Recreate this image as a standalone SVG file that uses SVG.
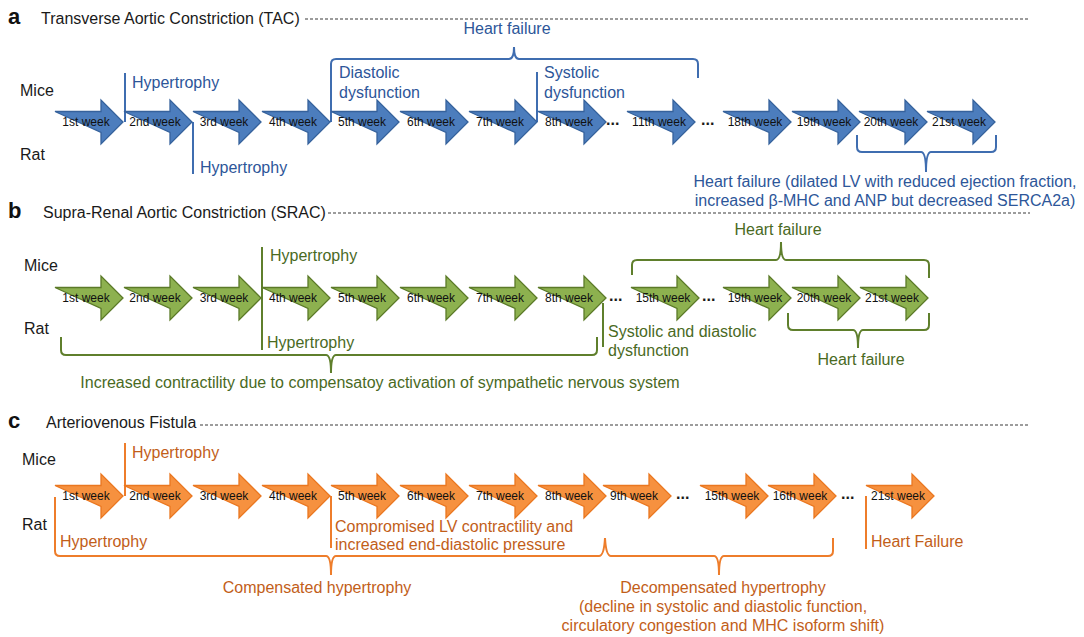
<svg xmlns="http://www.w3.org/2000/svg" xmlns:xlink="http://www.w3.org/1999/xlink" width="1084" height="637" viewBox="0 0 1084 637">
  <style>
    text { font-family: "Liberation Sans", Arial, sans-serif; }
    .letter { font-size: 22px; font-weight: bold; fill: #111; }
    .title { font-size: 16px; fill: #1a1a1a; }
    .sp { font-size: 16px; fill: #1a1a1a; }
    .wk { font-size: 12px; fill: #111; text-anchor: middle; }
    .dots { font-size: 16px; font-weight: bold; fill: #1a1a1a; }
    .dash { stroke: #3a3a3a; stroke-width: 1.2; stroke-dasharray: 3 2; fill: none; }
    .ab { fill: #4c7dbd; stroke: #36629c; stroke-width: 1.3; }
    .ag { fill: #8db14f; stroke: #5b7a28; stroke-width: 1.3; }
    .ao { fill: #f6913f; stroke: #ea7720; stroke-width: 1.3; }
    .tb { font-size: 16px; fill: #2d5699; }
    .tg { font-size: 16px; fill: #4a6a1f; }
    .to { font-size: 16px; fill: #c25e19; }
    .lb { stroke: #3f6db0; stroke-width: 2; fill: none; }
    .lg { stroke: #5f7f2c; stroke-width: 2; fill: none; }
    .lo { stroke: #ee7d2b; stroke-width: 2; fill: none; }
    .mid { text-anchor: middle; }
  </style>
  <defs>
    <!-- block arrow, origin at the left end of the shaft, vertically centred -->
    <path id="arrow" d="M0,-10.5 H46 V-22 L68,0 L46,22 V10.5 Z"/>
  </defs>

  <rect width="1084" height="637" fill="#fff"/>

  <!-- ===== headers ===== -->
  <g id="header-a">
    <text class="letter" x="8" y="24">a</text>
    <text class="title" x="41" y="24">Transverse Aortic Constriction (TAC)</text>
    <line class="dash" x1="305" y1="19" x2="1030" y2="19"/>
  </g>
  <g id="header-b">
    <text class="letter" x="8" y="218">b</text>
    <text class="title" x="43" y="218">Supra-Renal Aortic Constriction (SRAC)</text>
    <line class="dash" x1="328" y1="213" x2="1030" y2="213"/>
  </g>
  <g id="header-c">
    <text class="letter" x="8" y="428">c</text>
    <text class="title" x="46" y="428">Arteriovenous Fistula</text>
    <line class="dash" x1="200" y1="425" x2="1030" y2="425"/>
  </g>

  <!-- species labels -->
  <g id="species">
    <text class="sp" x="20" y="96">Mice</text>
    <text class="sp" x="20" y="160">Rat</text>
    <text class="sp" x="24" y="271">Mice</text>
    <text class="sp" x="24" y="334">Rat</text>
    <text class="sp" x="22" y="465">Mice</text>
    <text class="sp" x="22" y="530">Rat</text>
  </g>

  <!-- ===== connectors: markers, brackets ===== -->
  <g id="connectors">
    <!-- panel a -->
    <line class="lb" x1="125" y1="73" x2="125" y2="122"/>
    <line class="lb" x1="193" y1="122" x2="193" y2="174"/>
    <line class="lb" x1="537" y1="72" x2="537" y2="122"/>
    <path class="lb" d="M331,122 V64 Q331,59 336,59 H509 Q514,59 514,47 Q514,59 519,59 H693 Q698,59 698,64 V78"/>
    <path class="lb" d="M857,135 V147 Q857,152 862,152 H921 Q926,152 926,172 Q926,152 931,152 H991 Q996,152 996,147 V135"/>
    <!-- panel b -->
    <line class="lg" x1="262" y1="247" x2="262" y2="350"/>
    <line class="lg" x1="603" y1="303" x2="603" y2="347"/>
    <path class="lg" d="M61,337 V350 Q61,355 66,355 H326 Q331,355 331,373 Q331,355 336,355 H592 Q597,355 597,350 V337"/>
    <path class="lg" d="M632,275 V265 Q632,260 637,260 H776 Q781,260 781,242 Q781,260 786,260 H924 Q929,260 929,265 V278"/>
    <path class="lg" d="M788,313 V325 Q788,330 793,330 H853 Q858,330 858,348 Q858,330 863,330 H924 Q929,330 929,325 V313"/>
    <!-- panel c -->
    <line class="lo" x1="125" y1="443" x2="125" y2="496"/>
    <line class="lo" x1="331" y1="496" x2="331" y2="548"/>
    <line class="lo" x1="866" y1="496" x2="866" y2="549"/>
    <path class="lo" d="M55,497 V551 Q55,556 60,556 H326 Q331,556 331,575 Q331,556 336,556 H599 Q604,556 605,538"/>
    <path class="lo" d="M605,538 Q606,556 611,556 H714 Q719,556 719,575 Q719,556 724,556 H828 Q833,556 833,551 V538"/>
  </g>

  <!-- ===== panel a: week arrows ===== -->
  <g id="a-weeks">
    <g id="a-w1"><use xlink:href="#arrow" class="ab" x="55" y="122"/><text class="wk" x="86" y="126">1st week</text></g>
    <g id="a-w2"><use xlink:href="#arrow" class="ab" x="124" y="122"/><text class="wk" x="155" y="126">2nd week</text></g>
    <g id="a-w3"><use xlink:href="#arrow" class="ab" x="193" y="122"/><text class="wk" x="224" y="126">3rd week</text></g>
    <g id="a-w4"><use xlink:href="#arrow" class="ab" x="262" y="122"/><text class="wk" x="293" y="126">4th week</text></g>
    <g id="a-w5"><use xlink:href="#arrow" class="ab" x="331" y="122"/><text class="wk" x="362" y="126">5th week</text></g>
    <g id="a-w6"><use xlink:href="#arrow" class="ab" x="400" y="122"/><text class="wk" x="431" y="126">6th week</text></g>
    <g id="a-w7"><use xlink:href="#arrow" class="ab" x="469" y="122"/><text class="wk" x="500" y="126">7th week</text></g>
    <g id="a-w8"><use xlink:href="#arrow" class="ab" x="538" y="122"/><text class="wk" x="569" y="126">8th week</text></g>
    <text class="dots" x="606" y="125">...</text>
    <g id="a-w11"><use xlink:href="#arrow" class="ab" x="627" y="122"/><text class="wk" x="659" y="126">11th week</text></g>
    <text class="dots" x="701" y="125">...</text>
    <g id="a-w18"><use xlink:href="#arrow" class="ab" x="723" y="122"/><text class="wk" x="755" y="126">18th week</text></g>
    <g id="a-w19"><use xlink:href="#arrow" class="ab" x="792" y="122"/><text class="wk" x="824" y="126">19th week</text></g>
    <g id="a-w20"><use xlink:href="#arrow" class="ab" x="859" y="122"/><text class="wk" x="891" y="126">20th week</text></g>
    <g id="a-w21"><use xlink:href="#arrow" class="ab" x="927" y="122"/><text class="wk" x="959" y="126">21st week</text></g>
  </g>

  <!-- panel a: annotations -->
  <g id="a-hyp-mice"><text class="tb" x="132" y="88">Hypertrophy</text></g>
  <g id="a-hyp-rat"><text class="tb" x="200" y="173">Hypertrophy</text></g>
  <g id="a-diastolic"><text class="tb" x="339" y="78">Diastolic</text><text class="tb" x="339" y="98">dysfunction</text></g>
  <g id="a-systolic"><text class="tb" x="544" y="78">Systolic</text><text class="tb" x="544" y="98">dysfunction</text></g>
  <g id="a-hf-mice"><text class="tb mid" x="507" y="34">Heart failure</text></g>
  <g id="a-hf-rat">
    <text class="tb mid" x="885" y="187">Heart failure (dilated LV with reduced ejection fraction,</text>
    <text class="tb mid" x="885" y="206">increased β-MHC and ANP but decreased SERCA2a)</text>
  </g>

  <!-- ===== panel b: week arrows ===== -->
  <g id="b-weeks">
    <g id="b-w1"><use xlink:href="#arrow" class="ag" x="55" y="298"/><text class="wk" x="86" y="302">1st week</text></g>
    <g id="b-w2"><use xlink:href="#arrow" class="ag" x="124" y="298"/><text class="wk" x="155" y="302">2nd week</text></g>
    <g id="b-w3"><use xlink:href="#arrow" class="ag" x="193" y="298"/><text class="wk" x="224" y="302">3rd week</text></g>
    <g id="b-w4"><use xlink:href="#arrow" class="ag" x="262" y="298"/><text class="wk" x="293" y="302">4th week</text></g>
    <g id="b-w5"><use xlink:href="#arrow" class="ag" x="331" y="298"/><text class="wk" x="362" y="302">5th week</text></g>
    <g id="b-w6"><use xlink:href="#arrow" class="ag" x="400" y="298"/><text class="wk" x="431" y="302">6th week</text></g>
    <g id="b-w7"><use xlink:href="#arrow" class="ag" x="469" y="298"/><text class="wk" x="500" y="302">7th week</text></g>
    <g id="b-w8"><use xlink:href="#arrow" class="ag" x="538" y="298"/><text class="wk" x="569" y="302">8th week</text></g>
    <text class="dots" x="609" y="301">...</text>
    <g id="b-w15"><use xlink:href="#arrow" class="ag" x="631" y="298"/><text class="wk" x="663" y="302">15th week</text></g>
    <text class="dots" x="702" y="301">...</text>
    <g id="b-w19"><use xlink:href="#arrow" class="ag" x="723" y="298"/><text class="wk" x="755" y="302">19th week</text></g>
    <g id="b-w20"><use xlink:href="#arrow" class="ag" x="792" y="298"/><text class="wk" x="824" y="302">20th week</text></g>
    <g id="b-w21"><use xlink:href="#arrow" class="ag" x="860" y="298"/><text class="wk" x="892" y="302">21st week</text></g>
  </g>

  <!-- panel b: annotations -->
  <g id="b-hyp-mice"><text class="tg" x="270" y="261">Hypertrophy</text></g>
  <g id="b-hyp-rat"><text class="tg" x="267" y="348">Hypertrophy</text></g>
  <g id="b-contract"><text class="tg mid" x="380" y="388">Increased contractility due to compensatoy activation of sympathetic nervous system</text></g>
  <g id="b-sysdia"><text class="tg" x="608" y="337">Systolic and diastolic</text><text class="tg" x="608" y="356">dysfunction</text></g>
  <g id="b-hf-mice"><text class="tg mid" x="778" y="235">Heart failure</text></g>
  <g id="b-hf-rat"><text class="tg mid" x="861" y="365">Heart failure</text></g>

  <!-- ===== panel c: week arrows ===== -->
  <g id="c-weeks">
    <g id="c-w1"><use xlink:href="#arrow" class="ao" x="55" y="496"/><text class="wk" x="86" y="500">1st week</text></g>
    <g id="c-w2"><use xlink:href="#arrow" class="ao" x="124" y="496"/><text class="wk" x="155" y="500">2nd week</text></g>
    <g id="c-w3"><use xlink:href="#arrow" class="ao" x="193" y="496"/><text class="wk" x="224" y="500">3rd week</text></g>
    <g id="c-w4"><use xlink:href="#arrow" class="ao" x="262" y="496"/><text class="wk" x="293" y="500">4th week</text></g>
    <g id="c-w5"><use xlink:href="#arrow" class="ao" x="331" y="496"/><text class="wk" x="362" y="500">5th week</text></g>
    <g id="c-w6"><use xlink:href="#arrow" class="ao" x="400" y="496"/><text class="wk" x="431" y="500">6th week</text></g>
    <g id="c-w7"><use xlink:href="#arrow" class="ao" x="469" y="496"/><text class="wk" x="500" y="500">7th week</text></g>
    <g id="c-w8"><use xlink:href="#arrow" class="ao" x="538" y="496"/><text class="wk" x="569" y="500">8th week</text></g>
    <g id="c-w9"><use xlink:href="#arrow" class="ao" x="603" y="496"/><text class="wk" x="634" y="500">9th week</text></g>
    <text class="dots" x="676" y="499">...</text>
    <g id="c-w15"><use xlink:href="#arrow" class="ao" x="700" y="496"/><text class="wk" x="732" y="500">15th week</text></g>
    <g id="c-w16"><use xlink:href="#arrow" class="ao" x="768" y="496"/><text class="wk" x="800" y="500">16th week</text></g>
    <text class="dots" x="841" y="499">...</text>
    <g id="c-w21"><use xlink:href="#arrow" class="ao" x="866" y="496"/><text class="wk" x="898" y="500">21st week</text></g>
  </g>

  <!-- panel c: annotations -->
  <g id="c-hyp-mice"><text class="to" x="132" y="458">Hypertrophy</text></g>
  <g id="c-hyp-rat"><text class="to" x="60" y="547">Hypertrophy</text></g>
  <g id="c-lv"><text class="to" x="335" y="532">Compromised LV contractility and</text><text class="to" x="335" y="550">increased end-diastolic pressure</text></g>
  <g id="c-comp"><text class="to mid" x="317" y="593">Compensated hypertrophy</text></g>
  <g id="c-decomp">
    <text class="to mid" x="723" y="593">Decompensated hypertrophy</text>
    <text class="to mid" x="723" y="612">(decline in systolic and diastolic function,</text>
    <text class="to mid" x="723" y="631">circulatory congestion and MHC isoform shift)</text>
  </g>
  <g id="c-hf"><text class="to" x="871" y="547">Heart Failure</text></g>
</svg>
